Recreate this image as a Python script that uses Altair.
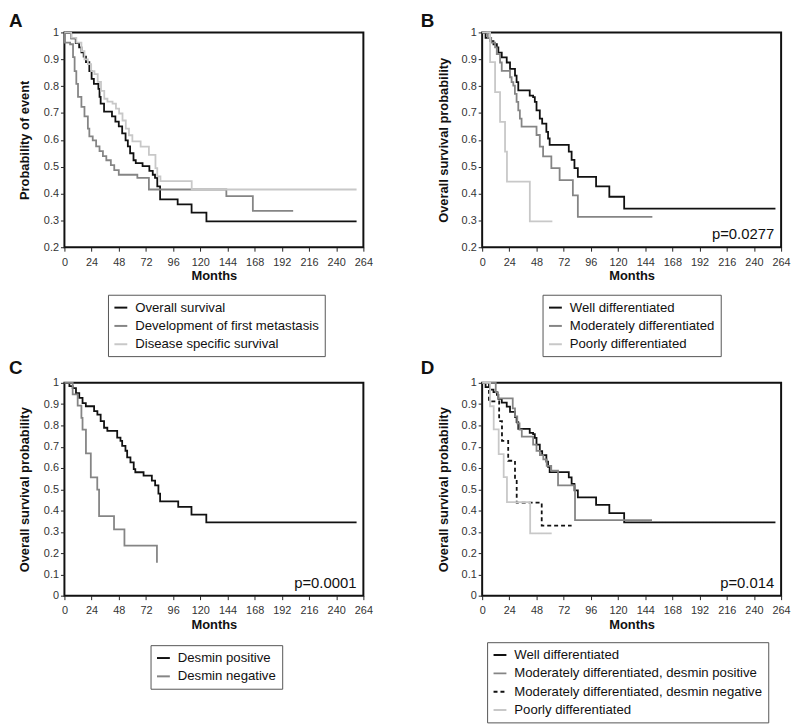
import altair as alt
import pandas as pd

# ---------------- data (months, survival probability) ----------------
A_labels = ["Overall survival", "Development of first metastasis", "Disease specific survival"]
A_os_m = [0, 6, 10, 13, 15, 17, 19, 22, 24, 26, 30, 31, 32, 35, 42, 45, 48, 51, 54, 56, 58, 61, 63, 69, 75, 78, 80, 82, 84.5, 100, 112.3, 125.4, 258]
A_os_v = [1, .978, .96, .944, .926, .91, .889, .856, .827, .808, .79, .76, .735, .705, .687, .668, .65, .624, .598, .576, .55, .524, .513, .502, .484, .47, .458, .427, .378, .36, .329, .296, .296]
A_met_m = [0, 0.3, 5, 7.6, 9, 10.5, 12, 15, 17.7, 20.7, 22, 25, 28, 31, 34, 37, 41, 44, 48, 64.4, 74.6, 143, 166.4, 202]
A_met_v = [1, .962, .956, .908, .856, .808, .76, .723, .687, .642, .613, .598, .576, .558, .539, .524, .506, .487, .47, .458, .415, .39, .335, .335]
A_dss_m = [0, 6, 10.5, 15, 17.7, 20.7, 23.6, 26.5, 29.4, 32.3, 35.2, 38, 42.5, 45.5, 48.3, 51.3, 54.2, 57, 60, 67.3, 74.6, 80.4, 82, 84.8, 112.4, 258]
A_dss_v = [1, .98, .962, .93, .90, .882, .856, .845, .816, .782, .753, .742, .735, .716, .698, .672, .642, .617, .594, .575, .544, .495, .464, .446, .415, .415]

B_labels = ["Well differentiated", "Moderately differentiated", "Poorly differentiated"]
B_wd_m = [0, 3, 7, 10, 13, 14.3, 17.3, 21.7, 24.6, 29, 30.4, 31.9, 42, 45, 46.5, 48, 50.9, 53, 56.7, 58.2, 59.6, 76.5, 79, 81.5, 84.5, 100.6, 112.3, 125.4, 259]
B_wd_v = [1, .98, .968, .956, .944, .925, .907, .888, .864, .839, .815, .784, .765, .759, .741, .71, .679, .66, .63, .605, .581, .556, .525, .495, .462, .427, .388, .344, .344]
B_md_m = [0, 5, 8, 11.4, 12.9, 15.8, 17.3, 24.6, 26, 27.5, 28.9, 30.4, 31.9, 33.3, 34.8, 48, 50.9, 53.8, 61.1, 68.4, 80.1, 84.5, 150.3]
B_md_v = [1, .98, .962, .944, .919, .888, .857, .833, .815, .802, .771, .741, .71, .679, .649, .618, .575, .538, .495, .45, .393, .313, .313]
B_pd_m = [0, 7, 11.4, 15.8, 20.2, 21.9, 42.1, 62]
B_pd_v = [1, .889, .778, .667, .556, .444, .296, .296]

C_labels = ["Desmin positive", "Desmin negative"]
C_pos_m = [0, 4.4, 7.3, 10.2, 13.1, 16, 18.9, 26.2, 29.1, 32, 35, 37.9, 46.6, 49.5, 51, 53.9, 55.4, 58.3, 61.2, 62.6, 69.9, 77.2, 80.1, 83, 84.5, 100.5, 112.2, 125.3, 258]
C_pos_v = [1, .985, .975, .952, .929, .905, .89, .867, .851, .82, .789, .774, .743, .727, .704, .681, .65, .626, .595, .58, .564, .541, .518, .479, .443, .417, .381, .344, .344]
C_neg_m = [0, 7.3, 11.7, 15, 16, 19, 23.3, 29, 30.6, 43.8, 53, 81.7]
C_neg_v = [1, .946, .893, .835, .78, .669, .556, .498, .374, .312, .235, .155]

D_labels = ["Well differentiated", "Moderately differentiated, desmin positive",
            "Moderately differentiated, desmin negative", "Poorly differentiated"]
D_wd_m = B_wd_m
D_wd_v = B_wd_v
D_mp_m = [0, 12, 14, 27, 29, 31, 33, 35, 45, 48, 51, 54, 57, 61, 67, 82, 150]
D_mp_v = [1, .955, .927, .88, .842, .81, .78, .747, .71, .68, .66, .64, .61, .587, .518, .355, .355]
D_mn_m = [0, 6, 15, 17.5, 23, 29, 30.5, 52.6, 79]
D_mn_v = [1, .913, .82, .727, .634, .547, .437, .329, .329]
D_pd_m = [0, 7, 10.2, 14.6, 19, 21.9, 42.4, 61.4]
D_pd_v = [1, .89, .781, .665, .557, .44, .293, .293]

x_ticks = list(range(0, 265, 24))

FONT = "Liberation Sans"
BLACK, MID, LIGHT = "#111111", "#858585", "#c8c8c8"
W = 302


def frame(series):
    rows = []
    for name, ms, vs in series:
        for m, v in zip(ms, vs):
            rows.append({"series": name, "month": m, "surv": v})
    return pd.DataFrame(rows)


def panel(letter, series, colors, ymin, ytitle, height, lx, ly, ldx, ldy, tpad, pval=None, dashes=None):
    df = frame(series)
    names = [s[0] for s in series]
    n = int(round((1 - ymin) / 0.1))
    yvals = [round(ymin + 0.1 * i, 1) for i in range(n + 1)]
    legend = alt.Legend(title=None, orient="none", legendX=lx, legendY=ly)
    enc = dict(
        x=alt.X("month:Q", scale=alt.Scale(domain=[0, 264], nice=False, zero=False),
                axis=alt.Axis(values=x_ticks, title="Months", labelFlush=False, labelOverlap=False)),
        y=alt.Y("surv:Q", scale=alt.Scale(domain=[ymin, 1], nice=False, zero=False),
                axis=alt.Axis(values=yvals, format=".1~f", title=ytitle, labelFlush=False,
                              labelOverlap=False, titlePadding=tpad)),
        color=alt.Color("series:N", scale=alt.Scale(domain=names, range=colors), legend=legend, sort=names),
    )
    if dashes:
        enc["strokeDash"] = alt.StrokeDash("series:N", scale=alt.Scale(domain=names, range=dashes),
                                           legend=legend, sort=names)
    lines = alt.Chart(df).mark_line(interpolate="step-after", strokeWidth=1.8).encode(**enc)
    letter_txt = alt.Chart(pd.DataFrame({"t": [letter]})).mark_text(
        align="left", baseline="top", fontSize=19, font=FONT, fontWeight="bold", color="#111"
    ).encode(text="t:N", x=alt.value(ldx), y=alt.value(ldy))
    layers = [lines, letter_txt]
    if pval:
        layers.append(
            alt.Chart(pd.DataFrame({"t": [pval]})).mark_text(
                align="right", baseline="alphabetic", fontSize=15, font=FONT, color="#111"
            ).encode(text="t:N", x=alt.value(W - 7), y=alt.value(height - 8))
        )
    return alt.layer(*layers).properties(width=W, height=height)


pA = panel("A", [(A_labels[0], A_os_m, A_os_v), (A_labels[1], A_met_m, A_met_v), (A_labels[2], A_dss_m, A_dss_v)],
           [BLACK, MID, LIGHT], 0.2, "Probability of event", 217, 44, 265, -56, -20, 12)
pB = panel("B", [(B_labels[0], B_wd_m, B_wd_v), (B_labels[1], B_md_m, B_md_v), (B_labels[2], B_pd_m, B_pd_v)],
           [BLACK, MID, LIGHT], 0.2, "Overall survival probability", 217, 61, 265, -62, -20, 11, pval="p=0.0277")
pC = panel("C", [(C_labels[0], C_pos_m, C_pos_v), (C_labels[1], C_neg_m, C_neg_v)],
           [BLACK, MID], 0.0, "Overall survival probability", 215, 87, 265, -56, -24, 12, pval="p=0.0001")
pD = panel("D", [(D_labels[0], D_wd_m, D_wd_v), (D_labels[1], D_mp_m, D_mp_v),
                 (D_labels[2], D_mn_m, D_mn_v), (D_labels[3], D_pd_m, D_pd_v)],
           [BLACK, MID, BLACK, LIGHT], 0.0, "Overall survival probability", 215, 5, 262, -62, -24, 11,
           pval="p=0.014", dashes=[[1, 0], [1, 0], [4, 3], [1, 0]])

top = alt.hconcat(pA, pB, spacing=46).resolve_scale(color="independent", strokeDash="independent")
bottom = alt.hconcat(pC, pD, spacing=46).resolve_scale(color="independent", strokeDash="independent")

chart = alt.vconcat(top, bottom, spacing=0).resolve_scale(
    color="independent", strokeDash="independent"
).properties(
    padding={"left": 0, "top": 0, "right": 0, "bottom": 0}
).configure_view(
    stroke="#111", strokeWidth=2
).configure_axis(
    labelFont=FONT, labelFontSize=11, labelColor="#333", tickColor="#222", tickSize=4,
    domain=False, grid=False, titleFont=FONT, titleFontSize=13, titleFontWeight="bold", titleColor="#111"
).configure_axisX(
    labelPadding=5, titlePadding=3
).configure_axisY(
    labelPadding=2
).configure_legend(
    labelFont=FONT, labelFontSize=13.3, labelColor="#111", symbolType="stroke", symbolStrokeWidth=2,
    symbolSize=169, strokeColor="#555", fillColor="white", padding=5.5, rowPadding=4.5, labelOffset=7,
    cornerRadius=0, labelLimit=400
)

chart.save("out.html", embed_options={"renderer": "svg", "actions": False})
